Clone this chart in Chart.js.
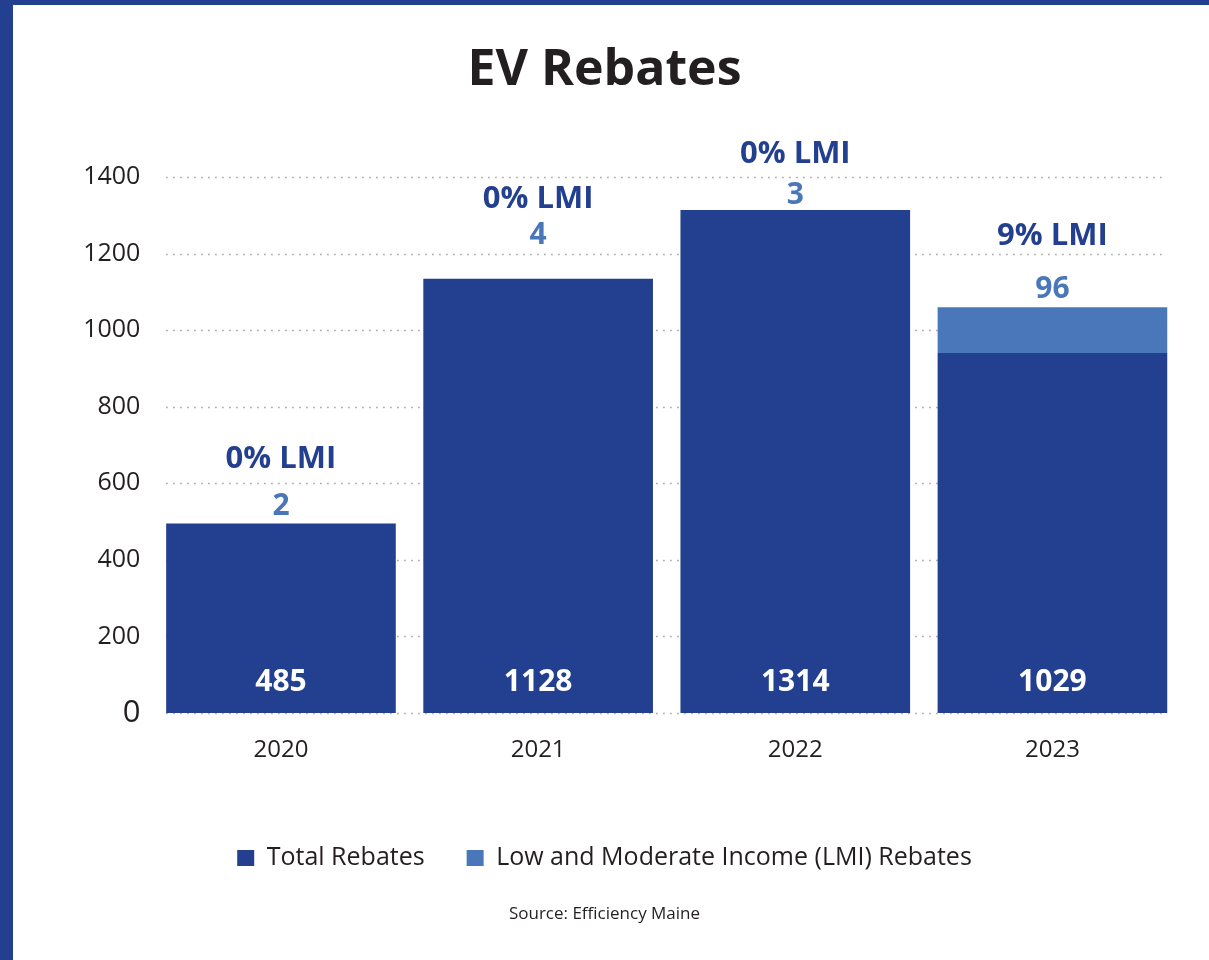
<!DOCTYPE html>
<html>
<head>
<meta charset="utf-8">
<title>EV Rebates</title>
<script src="https://cdn.jsdelivr.net/npm/chart.js@4/dist/chart.umd.min.js"></script>
<style>
  html, body { margin: 0; padding: 0; background: #fff; }
  body { width: 1209px; height: 960px; position: relative; overflow: hidden; }
  .stripe-left { position: absolute; left: 0; top: 0; width: 13px; height: 960px; background: #22408f; }
  .stripe-top { position: absolute; left: 0; top: 0; width: 1209px; height: 5px; background: #22408f; }
  #wrap { position: absolute; left: 0; top: 0; width: 1209px; height: 960px; }
</style>
</head>
<body>
<div class="stripe-left"></div>
<div class="stripe-top"></div>
<div id="wrap"><canvas id="chart"></canvas></div>
<script>
// values
const years = ["2020", "2021", "2022", "2023"];
const totalBars = [495, 1134, 1314, 940];     // dark bar heights
const lmiBars = [0, 0, 0, 120];               // light segment stacked on top
const totalLabels = ["485", "1128", "1314", "1029"];
const lmiLabels = ["2", "4", "3", "96"];
const lmiShareLabels = ["0% LMI", "0% LMI", "0% LMI", "9% LMI"];
const yTicks = [0, 200, 400, 600, 800, 1000, 1200, 1400];

const DARK = "#233f8f";
const LIGHT = "#4a77ba";
const INK = "#231f20";
const FONT = "'Open Sans', Lato, sans-serif";

// hand-placed label lifts above each bar top (px), as in the original layout
const countLift = [17, 43, 14, 18];
const shareLift = [64, 80, 56, 71];

const dottedGrid = {
  id: "dottedGrid",
  beforeDatasetsDraw(chart) {
    const { ctx } = chart;
    const y = chart.scales.y;
    const bars = chart.getDatasetMeta(0).data;
    const first = bars[0], last = bars[bars.length - 1];
    const x0 = first.x - first.width / 2;
    const x1 = last.x + last.width / 2;
    ctx.save();
    ctx.strokeStyle = "#9f9f9f";
    ctx.lineWidth = 1.5;
    ctx.setLineDash([1.5, 5.5]);
    yTicks.forEach((v) => {
      const py = Math.round(y.getPixelForValue(v)) + 0.5;
      ctx.beginPath();
      ctx.moveTo(x0, py);
      ctx.lineTo(x1, py);
      ctx.stroke();
    });
    ctx.restore();
  },
};

const barText = {
  id: "barText",
  afterDatasetsDraw(chart) {
    const { ctx } = chart;
    const y = chart.scales.y;
    const dark = chart.getDatasetMeta(0).data;
    const light = chart.getDatasetMeta(1).data;
    ctx.save();
    ctx.textAlign = "center";
    ctx.textBaseline = "middle";
    dark.forEach((bar, i) => {
      const top = Math.min(bar.y, light[i].y);
      // white total inside the bar
      ctx.fillStyle = "#fff";
      ctx.font = "bold 30px " + FONT;
      ctx.fillText(totalLabels[i], bar.x, y.getPixelForValue(0) - 31);
      // LMI count
      ctx.fillStyle = LIGHT;
      ctx.font = "bold 30px " + FONT;
      ctx.fillText(lmiLabels[i], bar.x, top - countLift[i]);
      // LMI share
      ctx.fillStyle = DARK;
      ctx.font = "bold 31px " + FONT;
      ctx.fillText(lmiShareLabels[i], bar.x, top - shareLift[i]);
    });
    ctx.restore();
  },
};

new Chart(document.getElementById("chart"), {
  type: "bar",
  data: {
    labels: years,
    datasets: [
      {
        label: "Total Rebates",
        data: totalBars,
        backgroundColor: DARK,
        borderWidth: 0,
        barPercentage: 0.893,
        categoryPercentage: 1,
      },
      {
        label: "Low and Moderate Income (LMI) Rebates",
        data: lmiBars,
        backgroundColor: LIGHT,
        borderWidth: 0,
        barPercentage: 0.893,
        categoryPercentage: 1,
      },
    ],
  },
  options: {
    responsive: true,
    maintainAspectRatio: false,
    animation: false,
    layout: { padding: { top: 0, left: 28, right: 28, bottom: 35.8 } },
    scales: {
      x: {
        stacked: true,
        grid: { display: false, drawTicks: false },
        border: { display: false },
        ticks: { color: INK, padding: 23, font: { family: FONT, size: 24, weight: "500" } },
        afterFit: (s) => { s.height = 90.5; },
      },
      y: {
        stacked: true,
        min: 0,
        max: 1400,
        grid: { display: false, drawTicks: false },
        border: { display: false },
        afterFit: (s) => { s.width = 124.4; },
        afterBuildTicks: (s) => { s.ticks = yTicks.map((v) => ({ value: v })); },
        ticks: {
          color: INK,
          padding: 12,
          callback: (v) => String(v),
          font: (c) => ({ family: FONT, weight: "500", size: c.tick && c.tick.value === 0 ? 31 : 25 }),
        },
      },
    },
    plugins: {
      title: {
        display: true,
        text: "EV Rebates",
        color: INK,
        font: { family: FONT, size: 50, weight: "bold" },
        padding: { top: 41, bottom: 76 },
      },
      subtitle: {
        display: true,
        position: "bottom",
        text: "Source: Efficiency Maine",
        color: INK,
        font: { family: FONT, size: 17 },
        padding: { top: 23.3, bottom: 0 },
      },
      legend: {
        position: "bottom",
        labels: {
          color: INK,
          boxWidth: 17,
          boxHeight: 16,
          padding: 42,
          font: { family: FONT, size: 25, weight: "500" },
        },
      },
      tooltip: { enabled: false },
    },
  },
  plugins: [dottedGrid, barText],
});
</script>
</body>
</html>
